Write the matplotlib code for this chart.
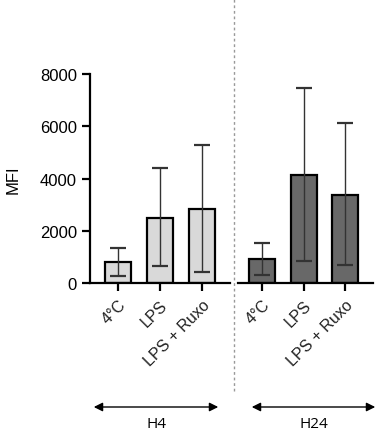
import numpy as np
import matplotlib
matplotlib.use("Agg")
import matplotlib.pyplot as plt

plt.rcParams['font.family'] = ['Liberation Sans', 'DejaVu Sans']

# data
categories = ["4°C", "LPS", "LPS + Ruxo"]
h4_mean = [800, 2500, 2820]
h4_low = [280, 650, 420]
h4_high = [1350, 4400, 5280]
h24_mean = [900, 4120, 3380]
h24_low = [310, 830, 700]
h24_high = [1530, 7450, 6130]
yticks = [0, 2000, 4000, 6000, 8000]

fig = plt.figure(figsize=(3.81, 4.35), dpi=100)
ax1 = fig.add_axes([90/381, 1-284/435, 140/381, 209/435])
ax2 = fig.add_axes([238/381, 1-284/435, 135/381, 209/435])


def draw(ax, mean, low, high, color, xlim):
    x = np.arange(len(categories))
    mean = np.array(mean)
    yerr = [mean - np.array(low), np.array(high) - mean]
    ax.bar(x, mean, width=0.63, color=color, edgecolor='black', linewidth=1.6, zorder=2)
    ax.errorbar(x, mean, yerr=yerr, fmt='none', ecolor='#333333', elinewidth=1.0,
                capsize=6, capthick=1.6, zorder=3)
    ax.set_xlim(*xlim)
    ax.set_ylim(0, 8000)
    ax.set_xticks(x)
    ax.set_xticklabels(categories, rotation=45, ha='right', rotation_mode='anchor',
                       fontsize=11.5, color='#222222')
    ax.tick_params(axis='x', length=6, width=1.6, pad=4)
    for s in ['top', 'right']:
        ax.spines[s].set_visible(False)
    for s in ['left', 'bottom']:
        ax.spines[s].set_linewidth(1.6)


draw(ax1, h4_mean, h4_low, h4_high, '#d9d9d9', (-0.667, 2.667))
draw(ax2, h24_mean, h24_low, h24_high, '#686868', (-0.58, 2.67))

ax1.set_yticks(yticks)
ax1.set_yticklabels([str(t) for t in yticks], fontsize=12)
ax1.tick_params(axis='y', length=6, width=1.6)
ax1.set_ylabel("MFI", fontsize=12, labelpad=14)

ax2.spines['left'].set_visible(False)
ax2.set_yticks([])

# divider
fig.add_artist(plt.Line2D([234/381, 234/381], [1-392/435, 1.0], transform=fig.transFigure,
                          color='#999999', linestyle=(0, (2, 2)), linewidth=1))

# time-point arrows
for x0, x1, lab in [(91, 221, "H4"), (249, 378, "H24")]:
    y = 1 - 408/435
    fig.add_artist(matplotlib.patches.FancyArrowPatch(
        (x0/381, y), (x1/381, y), transform=fig.transFigure,
        arrowstyle='<|-|>', mutation_scale=13, color='black', linewidth=1))
    fig.text((x0+x1)/2/381, 1-425/435, lab, ha='center', va='center', fontsize=11,
             family=['Open Sans', 'DejaVu Sans'])

fig.savefig("out.png", dpi=100)
